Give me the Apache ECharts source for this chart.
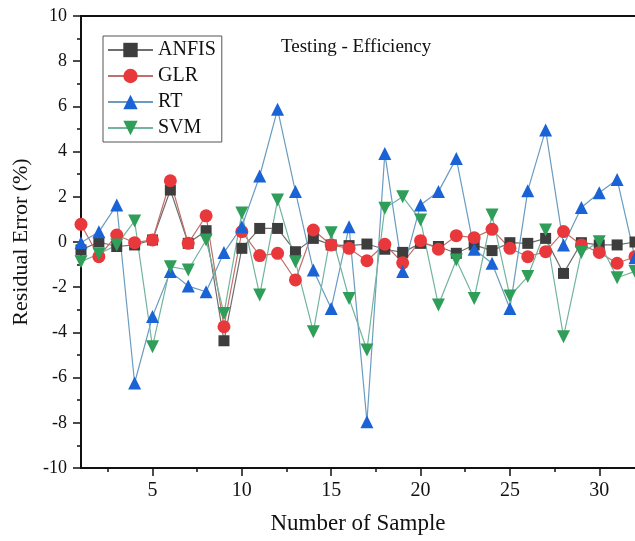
<!DOCTYPE html>
<html>
<head>
<meta charset="utf-8">
<script src="https://cdn.jsdelivr.net/npm/echarts@6/dist/echarts.min.js"></script>
<style>html,body{margin:0;padding:0;background:#fff}#c{width:635px;height:541px}</style>
</head>
<body>
<div id="c"></div>
<script>
const samples = [1,2,3,4,5,6,7,8,9,10,11,12,13,14,15,16,17,18,19,20,21,22,23,24,25,26,27,28,29,30,31,32];
const anfis = [-0.35,0.0,-0.2,-0.13,0.09,2.3,-0.06,0.5,-4.37,-0.28,0.6,0.6,-0.43,0.16,-0.13,-0.16,-0.09,-0.32,-0.46,-0.06,-0.2,-0.5,-0.13,-0.38,-0.03,-0.06,0.16,-1.39,-0.03,-0.13,-0.13,0.0];
const glr = [0.78,-0.65,0.31,-0.03,0.09,2.71,-0.06,1.16,-3.75,0.46,-0.6,-0.5,-1.68,0.53,-0.13,-0.28,-0.83,-0.1,-0.92,0.06,-0.32,0.28,0.19,0.56,-0.28,-0.65,-0.43,0.46,-0.13,-0.46,-0.94,-0.65];
const rt = [-0.03,0.45,1.64,-6.24,-3.3,-1.31,-1.95,-2.2,-0.47,0.68,2.92,5.87,2.23,-1.24,-2.94,0.68,-7.95,3.92,-1.31,1.64,2.23,3.7,-0.32,-0.94,-2.94,2.27,4.96,-0.13,1.53,2.18,2.77,-0.7];
const svm = [-0.87,-0.53,-0.13,0.93,-4.63,-1.09,-1.24,0.09,-3.16,1.28,-2.35,1.86,-0.87,-3.97,0.41,-2.5,-4.78,1.49,2.0,0.97,-2.79,-0.8,-2.5,1.19,-2.39,-1.53,0.53,-4.19,-0.47,0.01,-1.58,-1.3];
const xLabelValues = [5,10,15,20,25,30];
const xMinorTickValues = [2.5,7.5,12.5,17.5,22.5,27.5,32.5];
const seriesNames = ['ANFIS','GLR','RT','SVM'];
const titleText = 'Testing - Efficiency';
const xName = 'Number of Sample';
const yName = 'Residual Error (%)';

const FONT = '"Liberation Serif", "DejaVu Serif", serif';
const pair = arr => samples.map((s, i) => [s, arr[i]]);

const chart = echarts.init(document.getElementById('c'), null, {renderer: 'canvas'});
const mk = (name, data, symbol, size, mColor, lColor, rotate) => ({
  name, type: 'line', data: pair(data), xAxisIndex: 0, yAxisIndex: 0,
  symbol, symbolSize: size, symbolRotate: rotate || 0, showAllSymbol: true,
  clip: true, animation: false,
  itemStyle: {color: mColor, opacity: 1},
  lineStyle: {color: lColor, width: 1.2},
  emphasis: {disabled: true}
});

chart.setOption({
  animation: false,
  backgroundColor: '#fff',
  title: {
    text: titleText, left: 276, top: 33,
    textStyle: {fontFamily: FONT, fontSize: 19, fontWeight: 'normal', color: '#111'}
  },
  legend: {
    orient: 'vertical', left: 103, top: 36,
    padding: [4, 6, 4, 4],
    itemWidth: 45, itemHeight: 18, itemGap: 6,
    borderColor: '#555', borderWidth: 1,
    data: seriesNames,
    textStyle: {fontFamily: FONT, fontSize: 20, color: '#111', lineHeight: 20}
  },
  grid: {left: 81, top: 16, width: 558, height: 452, containLabel: false},
  xAxis: [
    {
      type: 'value', min: 1, max: 32, position: 'bottom',
      name: xName, nameLocation: 'middle', nameGap: 44,
      nameTextStyle: {fontFamily: FONT, fontSize: 23, color: '#111'},
      axisLine: {onZero: false, lineStyle: {color: '#111', width: 2}},
      axisTick: {show: true, inside: false, length: 8, customValues: xLabelValues, lineStyle: {color: '#111', width: 1.5}},
      axisLabel: {customValues: xLabelValues, margin: 13, fontFamily: FONT, fontSize: 20, color: '#111'},
      splitLine: {show: false}
    },
    {
      type: 'value', min: 1, max: 32, position: 'bottom',
      axisLine: {show: false, onZero: false},
      axisTick: {show: true, length: 4, customValues: xMinorTickValues, lineStyle: {color: '#111', width: 1.5}},
      axisLabel: {show: false},
      splitLine: {show: false}
    },
    {
      type: 'value', min: 1, max: 32, position: 'top',
      axisLine: {show: true, onZero: false, lineStyle: {color: '#111', width: 2}},
      axisTick: {show: false}, axisLabel: {show: false}, splitLine: {show: false}
    }
  ],
  yAxis: {
    type: 'value', min: -10, max: 10, interval: 2,
    name: yName, nameLocation: 'middle', nameGap: 45, nameRotate: 90,
    nameTextStyle: {fontFamily: FONT, fontSize: 22, color: '#111'},
    axisLine: {show: true, onZero: false, lineStyle: {color: '#111', width: 2}},
    axisTick: {show: true, length: 8, lineStyle: {color: '#111', width: 1.5}},
    minorTick: {show: true, splitNumber: 2, length: 4, lineStyle: {color: '#111', width: 1.5}},
    axisLabel: {margin: 14, fontFamily: FONT, fontSize: 18, color: '#111'},
    splitLine: {show: false}
  },
  series: [
    mk('ANFIS', anfis, 'rect', 11, '#3d3d3d', '#6e6e6e'),
    mk('GLR', glr, 'circle', 13, '#e8383b', '#c0706a'),
    mk('RT', rt, 'triangle', 13, '#1a63d6', '#6a9cc0'),
    mk('SVM', svm, 'triangle', 13, '#2e9e58', '#72b49e', 180)
  ]
});
</script>
</body>
</html>
